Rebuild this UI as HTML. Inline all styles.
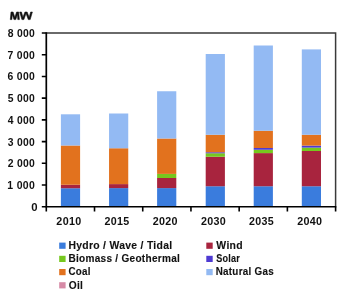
<!DOCTYPE html>
<html><head><meta charset="utf-8"><style>
html,body{margin:0;padding:0;background:#fff;width:338px;height:296px;overflow:hidden}
svg{display:block;will-change:transform}
text{font-family:"Liberation Sans",sans-serif;font-weight:bold;font-size:10.5px;fill:#111;stroke:#111;stroke-width:0.12px}
text.n{stroke-width:0}
</style></head><body>
<svg width="338" height="296" viewBox="0 0 338 296">
<rect x="60.90" y="188.25" width="19.2" height="17.75" fill="#3a7cdd"/>
<rect x="60.90" y="184.75" width="19.2" height="3.50" fill="#a8243e"/>
<rect x="60.90" y="145.5" width="19.2" height="39.25" fill="#e2721e"/>
<rect x="60.90" y="114.3" width="19.2" height="31.20" fill="#93baf3"/>
<rect x="109.05" y="188.1" width="19.2" height="17.90" fill="#3a7cdd"/>
<rect x="109.05" y="184.1" width="19.2" height="4.00" fill="#a8243e"/>
<rect x="109.05" y="148.25" width="19.2" height="35.85" fill="#e2721e"/>
<rect x="109.05" y="113.5" width="19.2" height="34.75" fill="#93baf3"/>
<rect x="157.10" y="188.1" width="19.2" height="17.90" fill="#3a7cdd"/>
<rect x="157.10" y="178.0" width="19.2" height="10.10" fill="#a8243e"/>
<rect x="157.10" y="173.9" width="19.2" height="4.10" fill="#76c81e"/>
<rect x="157.10" y="138.5" width="19.2" height="35.40" fill="#e2721e"/>
<rect x="157.10" y="91.25" width="19.2" height="47.25" fill="#93baf3"/>
<rect x="205.70" y="186.25" width="19.2" height="19.75" fill="#3a7cdd"/>
<rect x="205.70" y="156.75" width="19.2" height="29.50" fill="#a8243e"/>
<rect x="205.70" y="153.25" width="19.2" height="3.50" fill="#76c81e"/>
<rect x="205.70" y="152.25" width="19.2" height="1.00" fill="#4e3ad2"/>
<rect x="205.70" y="134.75" width="19.2" height="17.50" fill="#e2721e"/>
<rect x="205.70" y="54" width="19.2" height="80.75" fill="#93baf3"/>
<rect x="253.70" y="186.25" width="19.2" height="19.75" fill="#3a7cdd"/>
<rect x="253.70" y="153.1" width="19.2" height="33.15" fill="#a8243e"/>
<rect x="253.70" y="149.75" width="19.2" height="3.35" fill="#76c81e"/>
<rect x="253.70" y="148" width="19.2" height="1.75" fill="#4e3ad2"/>
<rect x="253.70" y="130.75" width="19.2" height="17.25" fill="#e2721e"/>
<rect x="253.70" y="45.5" width="19.2" height="85.25" fill="#93baf3"/>
<rect x="301.80" y="186.25" width="19.2" height="19.75" fill="#3a7cdd"/>
<rect x="301.80" y="151" width="19.2" height="35.25" fill="#a8243e"/>
<rect x="301.80" y="147.6" width="19.2" height="3.40" fill="#76c81e"/>
<rect x="301.80" y="145.6" width="19.2" height="2.00" fill="#4e3ad2"/>
<rect x="301.80" y="134.75" width="19.2" height="10.85" fill="#e2721e"/>
<rect x="301.80" y="49.4" width="19.2" height="85.35" fill="#93baf3"/>
<path d="M46.3 33.0H335.6V206.75" fill="none" stroke="#3a3a3a" stroke-width="1.5"/>
<path d="M46.3 32.25V206.75H336.35" fill="none" stroke="#000" stroke-width="1.7"/>
<path d="M41.8 33.00H46.3 M41.8 54.72H46.3 M41.8 76.44H46.3 M41.8 98.16H46.3 M41.8 119.88H46.3 M41.8 141.59H46.3 M41.8 163.31H46.3 M41.8 185.03H46.3 M41.8 206.75H46.3 M46.30 206.75V211.6 M94.52 206.75V211.6 M142.73 206.75V211.6 M190.95 206.75V211.6 M239.17 206.75V211.6 M287.38 206.75V211.6 M335.60 206.75V211.6" stroke="#000" stroke-width="1.6"/>
<rect x="59.2" y="242.60" width="6.4" height="6.2" fill="#3a7cdd"/>
<rect x="206.3" y="242.60" width="6.4" height="6.2" fill="#a8243e"/>
<rect x="59.2" y="255.80" width="6.4" height="6.2" fill="#76c81e"/>
<rect x="206.3" y="255.80" width="6.4" height="6.2" fill="#4e3ad2"/>
<rect x="59.2" y="269.00" width="6.4" height="6.2" fill="#e2721e"/>
<rect x="206.3" y="269.00" width="6.4" height="6.2" fill="#93baf3"/>
<rect x="59.2" y="282.20" width="6.4" height="6.2" fill="#d68aa6"/>
<path d="M10.3 19.6L11.0 12.0L13.1 12.0L14.85 17.3L16.6 12.0L18.7 12.0L19.4 19.6L17.8 19.6L17.45 14.4L15.75 19.6L13.95 19.6L12.25 14.4L11.9 19.6Z M19.7 12.0L21.45 12.0L22.95 17.2L24.95 12.0L27.15 12.0L29.15 17.2L30.65 12.0L32.4 12.0L30.2 19.6L28.25 19.6L26.05 13.4L23.85 19.6L21.9 19.6Z" fill="#111" stroke="#111" stroke-width="0.55" stroke-linejoin="round"/>
<text class="n" transform="translate(7.66 37.00) scale(0.988 0.970)" letter-spacing="0.3">8 000</text>
<text class="n" transform="translate(7.56 58.74) scale(0.992 0.970)" letter-spacing="0.3">7 000</text>
<text class="n" transform="translate(7.61 80.48) scale(0.990 0.970)" letter-spacing="0.3">6 000</text>
<text class="n" transform="translate(7.69 102.22) scale(0.987 0.970)" letter-spacing="0.3">5 000</text>
<text class="n" transform="translate(7.85 123.96) scale(0.981 0.970)" letter-spacing="0.3">4 000</text>
<text class="n" transform="translate(7.77 145.70) scale(0.984 0.970)" letter-spacing="0.3">3 000</text>
<text class="n" transform="translate(7.64 167.44) scale(0.989 0.970)" letter-spacing="0.3">2 000</text>
<text class="n" transform="translate(7.34 189.18) scale(1.000 0.970)" letter-spacing="0.3">1 000</text>
<text class="n" transform="translate(31.25 210.60) scale(1.083 0.970)" letter-spacing="0.3">0</text>
<text class="n" transform="translate(56.37 224.70) scale(1.024 1.000)" letter-spacing="0.3">2010</text>
<text class="n" transform="translate(104.55 224.70) scale(1.018 1.000)" letter-spacing="0.3">2015</text>
<text class="n" transform="translate(152.71 224.70) scale(1.024 1.000)" letter-spacing="0.3">2020</text>
<text class="n" transform="translate(200.88 224.70) scale(1.024 1.000)" letter-spacing="0.3">2030</text>
<text class="n" transform="translate(249.06 224.70) scale(1.018 1.000)" letter-spacing="0.3">2035</text>
<text class="n" transform="translate(297.22 224.70) scale(1.024 1.000)" letter-spacing="0.3">2040</text>
<text transform="translate(68.40 249.00) scale(0.990 1.000)" letter-spacing="0.3">Hydro / Wave / Tidal</text>
<text transform="translate(68.42 262.20) scale(0.956 1.000)" letter-spacing="0.3">Biomass / Geothermal</text>
<text transform="translate(68.51 275.40) scale(0.933 1.000)" letter-spacing="0.3">Coal</text>
<text transform="translate(68.69 288.60) scale(0.968 1.000)" letter-spacing="0.3">Oil</text>
<text transform="translate(216.37 249.00) scale(0.994 1.000)" letter-spacing="0.3">Wind</text>
<text transform="translate(216.13 262.20) scale(0.865 1.000)" letter-spacing="0.3">Solar</text>
<text transform="translate(215.63 275.40) scale(0.939 1.000)" letter-spacing="0.3">Natural Gas</text>
</svg></body></html>
